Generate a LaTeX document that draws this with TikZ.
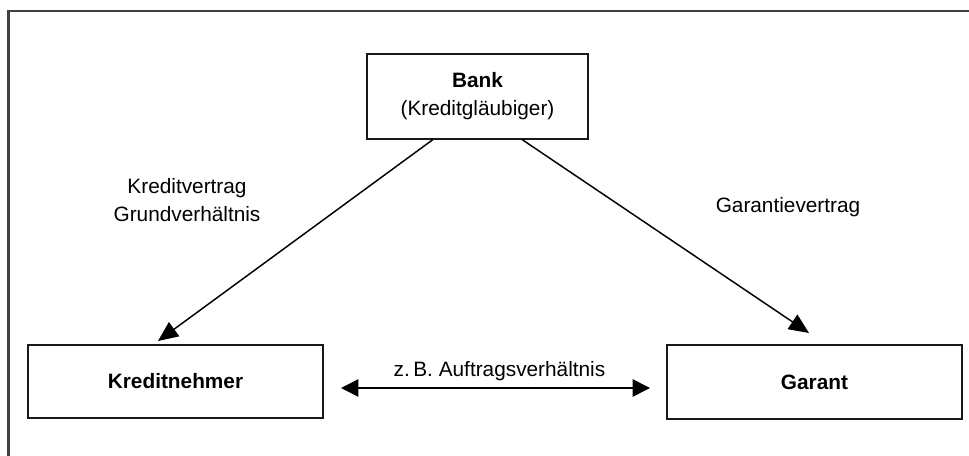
\documentclass[tikz,border=0pt]{standalone}
\usepackage{fontspec}
\setmainfont{Liberation Sans}
\usetikzlibrary{arrows.meta}

\begin{document}
\begin{tikzpicture}[x=0.75pt, y=-0.75pt, font=\fontsize{15.6}{21}\selectfont,
  party/.style={shape=rectangle, draw=black!90, line width=1.5pt, minimum width=221.25pt, minimum height=55pt, font=\fontsize{15.6}{21}\selectfont\bfseries},
  relation/.style={line width=1.1pt, -{Triangle[length=15pt,width=13pt]}}]
%%%%%%%%%%%%%%%%%%%%%%%%%%%%%%%%%%%%%%%%%%% HELP LINES
%\draw[help lines] (0,0) grid +(969,456);
\useasboundingbox (0,0) rectangle (969,456);
\clip (0,0) rectangle (969,456);

%%%%%%%%%%%%%%%%%%%%%%%%%%%%%%%%%%%%%%%%%%% frame
\draw[line width=1.6pt, draw=black!75] (8.5,470) -- (8.5,11) -- (985,11);

%%%%%%%%%%%%%%%%%%%%%%%%%%%%%%%%%%%%%%%%%%% elements
\node[party, minimum height=63.75pt, minimum width=165.75pt, align=center](bank) at (477.5,96.5){Bank\\\mdseries(Kreditgläubiger)};
\node[party](kn) at (175.5,381.5){Kreditnehmer};
\node[party](garant) at (814.5,382){Garant};

%%%%% relations
\coordinate (kvStart) at (433,139.5);
\coordinate (kvEnd) at (158,341);
\coordinate (gvStart) at (522,139.5);
\coordinate (gvEnd) at (809,333);
\coordinate (avLeft) at (341,388);
\coordinate (avRight) at (650,388);
\draw[relation] (kvStart) -- (kvEnd);
\draw[relation] (gvStart) -- (gvEnd);
\draw[line width=1.1pt, {Triangle[length=13pt,width=13pt]}-{Triangle[length=13pt,width=13pt]}] (avLeft) -- (avRight);

%%%%% labels
\node[shape=rectangle, draw=none, align=center](kv) at (187,200){Kreditvertrag\\Grundverhältnis};
\node[shape=rectangle, draw=none](gv) at (788,207){Garantievertrag};
\node[shape=rectangle, draw=none](av) at (499.5,371){z.\,B. Auftragsverhältnis};
\end{tikzpicture}
\end{document}
